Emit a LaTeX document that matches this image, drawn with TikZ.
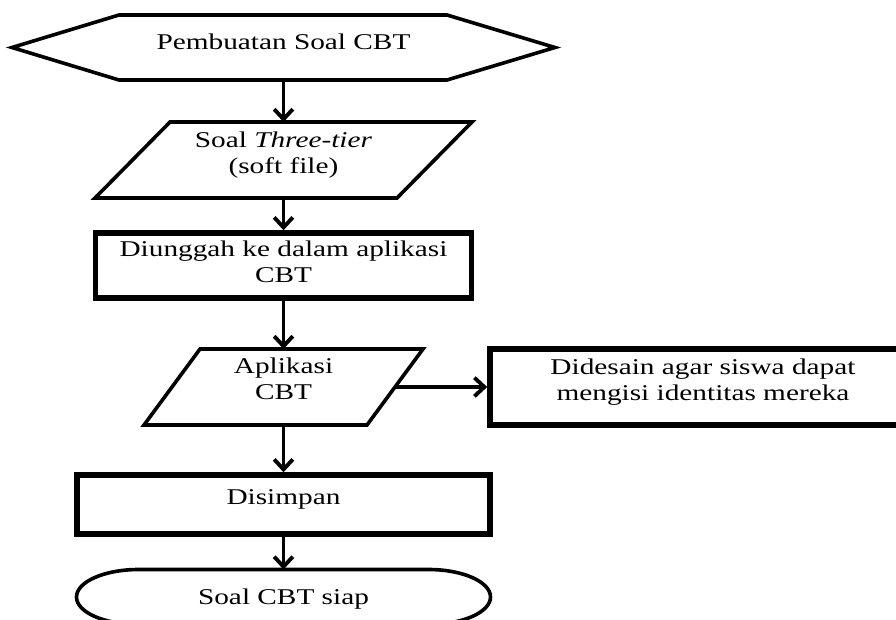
\documentclass[tikz,border=0pt]{standalone}
\usepackage{fontspec}
\setmainfont{Liberation Serif}[FakeStretch=1.3]
\usetikzlibrary{arrows.meta}
% centred block of lines, lifted without changing its box
\newcommand\liftbox[2]{\raisebox{#1}[\height][\depth]{\begin{tabular}{@{}c@{}}#2\end{tabular}}}

\begin{document}
\begin{tikzpicture}[x=0.75pt,y=0.75pt,
  every node/.style={font=\fontsize{16.9pt}{19.4pt}\selectfont, inner sep=0pt},
  slot/.style 2 args={minimum width={#1*0.75pt}, minimum height={#2*0.75pt}},
  plainshape/.style={outer sep=0pt},
  outline/.style={line width=2.7pt, line join=miter},
  procbox/.style={draw, line width=4.2pt},
  flow/.style={line width=2.9pt, -{Straight Barb[length=7.5pt,width=14pt]}}]

\useasboundingbox (0,0) rectangle (896,619);
\fill[white] (0,0) rectangle (896,619);
\clip (0,0) rectangle (896,619);

% start: hexagon
\node[plainshape, slot={543}{65}] (start) at (283.5,571.5) {\liftbox{2.25pt}{Pembuatan Soal CBT}};
\draw[outline] (start.west) -- ([shift={(107,0)}]start.north west) -- ([shift={(-108,0)}]start.north east)
  -- (start.east) -- ([shift={(-108,0)}]start.south east) -- ([shift={(107,0)}]start.south west) -- cycle;

% input: question file
\node[plainshape, slot={377}{76}] (soal) at (283.5,459) {\liftbox{3.75pt}{Soal \textit{Three-tier}\\(soft file)}};
\draw[outline] ([shift={(75,0)}]soal.north west) -- (soal.north east)
  -- ([shift={(-75,0)}]soal.south east) -- (soal.south west) -- cycle;

% upload step
\node[procbox, slot={376}{65}] (upload) at (283.5,353.5) {\liftbox{0.75pt}{Diunggah ke dalam aplikasi\\CBT}};

% application
\node[plainshape, slot={279}{76}] (app) at (283.5,232) {\liftbox{4.5pt}{Aplikasi\\CBT}};
\draw[outline] ([shift={(56,0)}]app.north west) -- (app.north east)
  -- ([shift={(-56,0)}]app.south east) -- (app.south west) -- cycle;

% side note, running past the right edge
\node[procbox, slot={426}{76}] (design) at (703,232) {\liftbox{3.75pt}{Didesain agar siswa dapat\\mengisi identitas mereka}};

% save step
\node[procbox, slot={413}{59}] (save) at (283.5,114.5) {\liftbox{3.75pt}{Disimpan}};

% end: terminator
\node[plainshape, slot={414}{55}] (ready) at (283.5,22) {\liftbox{-1.5pt}{Soal CBT siap}};
\draw[outline] ([shift={(62,0)}]ready.north west) -- ([shift={(-62,0)}]ready.north east)
  arc[start angle=90, end angle=-90, x radius={62*0.75pt}, y radius={27.5*0.75pt}]
  -- ([shift={(62,0)}]ready.south west)
  arc[start angle=270, end angle=90, x radius={62*0.75pt}, y radius={27.5*0.75pt}] -- cycle;

% connectors
\draw[flow] (start.south) -- (soal.north);
\draw[flow] (soal.south) -- (upload.north);
\draw[flow] (upload.south) -- (app.north);
\draw[flow] ([shift={(-28,0)}]app.east) -- (design.west);
\draw[flow] (app.south) -- (save.north);
\draw[flow] (save.south) -- (ready.north);
\end{tikzpicture}
\end{document}
